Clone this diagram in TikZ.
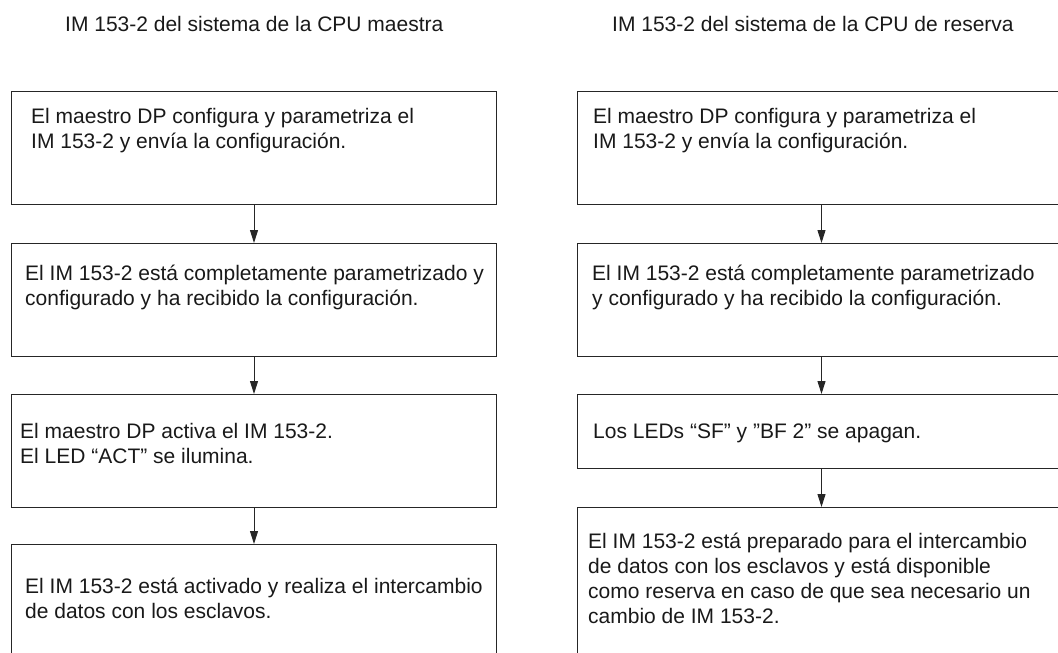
\documentclass[tikz,border=0pt]{standalone}
\usepackage{fontspec}
\setmainfont{Liberation Sans}
\usetikzlibrary{arrows.meta}
\begin{document}
\begin{tikzpicture}[x=1pt,y=-1pt,
  box/.style={draw=black!85,line width=1pt,rectangle,inner sep=0pt,anchor=north west,minimum width=#1},
  box/.default=485pt,
  txt/.style={anchor=base west,inner sep=0pt,font=\fontsize{21}{25}\selectfont,text=black!90},
  flow/.style={draw=black!85,line width=1pt,-{Triangle[width=8pt,length=13pt]}}]
\useasboundingbox (0,0) rectangle (1058,653);
\clip (0,0) rectangle (1058,653);
\node[txt] (tl) at (65,31) {IM 153-2 del sistema de la CPU maestra};
\node[txt] (tr) at (612,31) {IM 153-2 del sistema de la CPU de reserva};
% left column
\node[box,minimum height=113pt] (L1) at (11,91) {};
\node[box,minimum height=113pt] (L2) at (11,243) {};
\node[box,minimum height=113pt] (L3) at (11,394) {};
\node[box,minimum height=160pt] (L4) at (11,544) {};
\node[txt] (tL1) at (31,123) {\vtop{\hbox{El maestro DP configura y parametriza el}\hbox{IM 153-2 y envía la configuración.}}};
\node[txt] (tL2) at (25,280) {\vtop{\hbox{El IM 153-2 está completamente parametrizado y}\hbox{configurado y ha recibido la configuración.}}};
\node[txt] (tL3) at (20,438) {\vtop{\hbox{El maestro DP activa el IM 153-2.}\hbox{El LED “ACT" se ilumina.}}};
\node[txt] (tL4) at (25,593) {\vtop{\hbox{El IM 153-2 está activado y realiza el intercambio}\hbox{de datos con los esclavos.}}};
% right column
\node[box=488pt,minimum height=113pt] (R1) at (577,91) {};
\node[box=488pt,minimum height=113pt] (R2) at (577,243) {};
\node[box=488pt,minimum height=74pt] (R3) at (577,394) {};
\node[box=488pt,minimum height=200pt] (R4) at (577,507) {};
\node[txt] (tR1) at (593,123) {\vtop{\hbox{El maestro DP configura y parametriza el}\hbox{IM 153-2 y envía la configuración.}}};
\node[txt] (tR2) at (592,280) {\vtop{\hbox{El IM 153-2 está completamente parametrizado}\hbox{y configurado y ha recibido la configuración.}}};
\node[txt] (tR3) at (593,438) {Los LEDs “SF" y ”BF 2" se apagan.};
\node[txt] (tR4) at (588,548) {\vtop{\hbox{El IM 153-2 está preparado para el intercambio}\hbox{de datos con los esclavos y está disponible}\hbox{como reserva en caso de que sea necesario un}\hbox{cambio de IM 153-2.}}};
% connectors
\draw[flow] (L1.south) -- (L2.north);
\draw[flow] (L2.south) -- (L3.north);
\draw[flow] (L3.south) -- (L4.north);
\draw[flow] (R1.south) -- (R2.north);
\draw[flow] (R2.south) -- (R3.north);
\draw[flow] (R3.south) -- (R4.north);
\end{tikzpicture}
\end{document}
